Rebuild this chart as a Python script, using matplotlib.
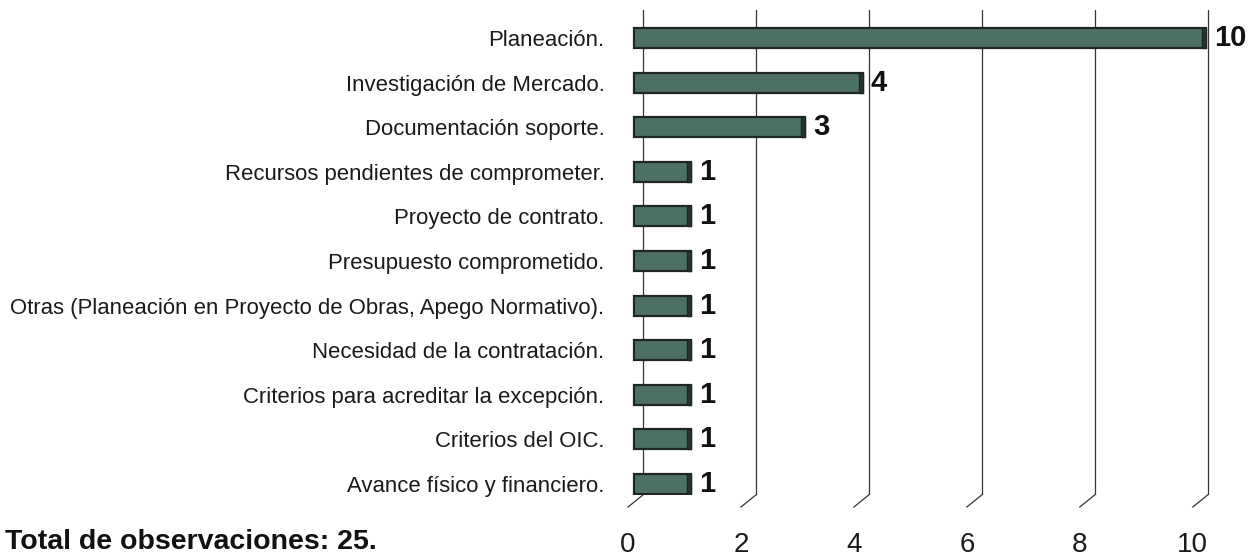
import matplotlib
matplotlib.use('Agg')
import matplotlib.pyplot as plt

categories = [
    "Planeación.",
    "Investigación de Mercado.",
    "Documentación soporte.",
    "Recursos pendientes de comprometer.",
    "Proyecto de contrato.",
    "Presupuesto comprometido.",
    "Otras (Planeación en Proyecto de Obras, Apego Normativo).",
    "Necesidad de la contratación.",
    "Criterios para acreditar la excepción.",
    "Criterios del OIC.",
    "Avance físico y financiero.",
]
values = [10, 4, 3, 1, 1, 1, 1, 1, 1, 1, 1]
xticks = [0, 2, 4, 6, 8, 10]
total_text = "Total de observaciones: 25."

plt.rcParams['font.family'] = ['Liberation Sans', 'DejaVu Sans']

W, H = 1253, 556
fig = plt.figure(figsize=(W / 100, H / 100), dpi=100)
ax = fig.add_axes([628 / W, 1 - 495 / H, 612 / W, 485 / H])

ypos = list(range(len(categories)))
ax.set_xlim(0, 10.6)
ax.set_ylim(10.25, -0.63)

# back wall is shifted a little to the right (fake 3D), feet go back to the front
back = [0.156 + t * 0.9877 for t in xticks]
foot = [b - 0.26 for b in back]
for b, f in zip(back, foot):
    ax.plot([b, b], [-0.63, 10.25], color='#333333', lw=0.9, zorder=1)
    ax.plot([b, f], [10.25, 10.52], color='#333333', lw=0.9,
            zorder=1, clip_on=False)

ax.barh(ypos, values, height=0.45, color='#4d7064', edgecolor='#1c2622',
        linewidth=1.6, zorder=3)
# darker end face
ax.barh(ypos, [0.07] * len(values), left=[v - 0.07 for v in values],
        height=0.45, color='#26342f', edgecolor='#1c2622', linewidth=1.0, zorder=3)

for y, v in zip(ypos, values):
    ax.text(v + 0.14, y, str(v), ha='left', va='center', fontsize=21,
            fontweight='bold', color='#111111', zorder=4)

ax.set_yticks(ypos)
ax.set_yticklabels(categories, fontsize=15.9, color='#1a1a1a')
ax.set_xticks(foot)
ax.set_xticklabels([str(t) for t in xticks], fontsize=20, color='#1a1a1a')
ax.tick_params(axis='y', length=0, pad=17)
ax.tick_params(axis='x', length=0, pad=27)
for s in ax.spines.values():
    s.set_visible(False)

fig.text(5 / W, 1 - 542 / H, total_text, ha='left', va='center',
         fontsize=20.5, fontweight='bold', color='#111111')

fig.savefig('out.png', dpi=100)
